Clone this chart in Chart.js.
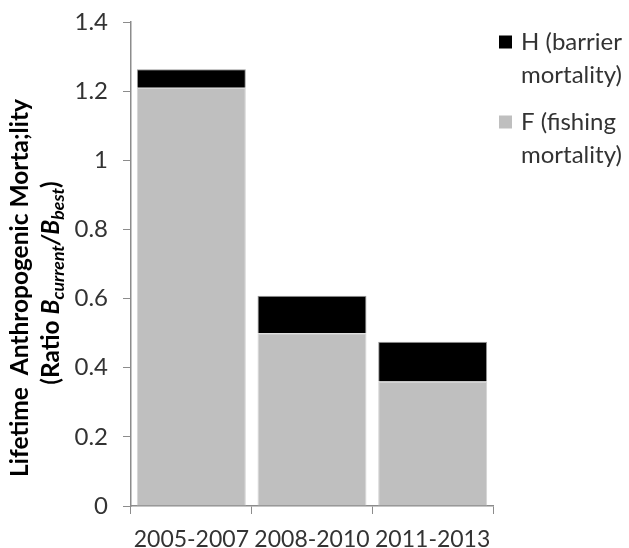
<!DOCTYPE html>
<html>
<head>
<meta charset="utf-8">
<script src="https://cdn.jsdelivr.net/npm/chart.js@4/dist/chart.umd.min.js"></script>
<style>
  html, body { margin: 0; padding: 0; background: #ffffff; }
  #wrap { width: 629px; height: 548px; }
</style>
</head>
<body>
<div id="wrap"><canvas id="c" width="629" height="548"></canvas></div>
<script>
// ---- data ----
const categories = ["2005-2007", "2008-2010", "2011-2013"];
const fishingF = [1.21, 0.50, 0.36];      // F (fishing mortality), bottom segment
const barrierH = [0.053, 0.108, 0.115];   // H (barrier mortality), top segment
const yTicks = [0, 0.2, 0.4, 0.6, 0.8, 1, 1.2, 1.4];
const seriesLabels = {
  H: ["H (barrier", "mortality)"],
  F: ["F (fishing", "mortality)"]
};

const FONT = "Lato, 'Noto Sans', sans-serif";
const TEXT = "#333333";
const AXIS = "#8c8c8c";

// Custom y-axis title (with italic subscripts) drawn rotated
const yTitlePlugin = {
  id: 'yTitle',
  afterDraw(chart) {
    const ctx = chart.ctx;
    const cy = 288;
    ctx.save();
    ctx.fillStyle = '#000';
    ctx.textBaseline = 'alphabetic';
    ctx.translate(28, cy);
    ctx.rotate(-Math.PI / 2);
    const line1 = "Lifetime  Anthropogenic Morta;lity";
    let fs = 20;
    ctx.font = "bold " + fs + "px " + FONT;
    const w1 = ctx.measureText(line1).width;
    fs = fs * 378 / w1;
    ctx.font = "bold " + fs + "px " + FONT;
    ctx.textAlign = 'center';
    ctx.fillText(line1, 0, 0);
    ctx.restore();

    const big = fs;
    const small = fs * 0.72;
    const runs = [
      { t: "(Ratio ", f: "bold " + big + "px " + FONT, dy: 0 },
      { t: "B", f: "italic bold " + big + "px " + FONT, dy: 0 },
      { t: "current", f: "italic bold " + small + "px " + FONT, dy: big * 0.22 },
      { t: "/", f: "italic bold " + big + "px " + FONT, dy: 0 },
      { t: "B", f: "italic bold " + big + "px " + FONT, dy: 0 },
      { t: "best", f: "italic bold " + small + "px " + FONT, dy: big * 0.22 },
      { t: ")", f: "bold " + big + "px " + FONT, dy: 0 }
    ];
    ctx.save();
    ctx.translate(59, cy - 5);
    ctx.rotate(-Math.PI / 2);
    ctx.textAlign = 'left';
    let total = 0;
    runs.forEach(r => { ctx.font = r.f; r.w = ctx.measureText(r.t).width; total += r.w; });
    let x = -total / 2;
    runs.forEach(r => { ctx.font = r.f; ctx.fillText(r.t, x, r.dy); x += r.w; });
    ctx.restore();
  }
};

// Custom legend with two-line labels on the right
const legendPlugin = {
  id: 'sideLegend',
  afterDraw(chart) {
    const ctx = chart.ctx;
    const ds = chart.data.datasets;
    const items = [
      { color: ds[1].backgroundColor, lines: seriesLabels.H, y: 42 },
      { color: ds[0].backgroundColor, lines: seriesLabels.F, y: 122 }
    ];
    ctx.save();
    ctx.font = "24px " + FONT;
    ctx.textBaseline = 'middle';
    ctx.textAlign = 'left';
    items.forEach(it => {
      ctx.fillStyle = it.color;
      ctx.fillRect(499, it.y - 6.5, 13, 13);
      ctx.fillStyle = TEXT;
      it.lines.forEach((ln, i) => ctx.fillText(ln, 521, it.y + i * 33));
    });
    ctx.restore();
  }
};

new Chart(document.getElementById('c'), {
  type: 'bar',
  data: {
    labels: categories,
    datasets: [
      {
        label: "F (fishing mortality)",
        data: fishingF,
        backgroundColor: '#bfbfbf',
        borderColor: '#d4d4d4',
        borderWidth: 1,
        barPercentage: 0.903,
        categoryPercentage: 1.0
      },
      {
        label: "H (barrier mortality)",
        data: barrierH,
        backgroundColor: '#000000',
        borderColor: '#9a9a9a',
        borderWidth: 1,
        barPercentage: 0.903,
        categoryPercentage: 1.0
      }
    ]
  },
  options: {
    responsive: false,
    animation: false,
    devicePixelRatio: 1,
    layout: { padding: { top: 22, right: 136, left: 0, bottom: 0 } },
    plugins: {
      legend: { display: false },
      tooltip: { enabled: false },
      title: { display: false }
    },
    scales: {
      x: {
        stacked: true,
        grid: { drawOnChartArea: false, drawTicks: true, tickLength: 8, color: AXIS, offset: true },
        border: { display: true, color: AXIS, width: 1.5 },
        ticks: { color: TEXT, font: { family: FONT, size: 23 }, padding: 12, maxRotation: 0, autoSkip: false },
        afterFit(scale) { scale.height = 42; scale.paddingLeft = 0; scale.paddingRight = 0; }
      },
      y: {
        stacked: true,
        min: 0,
        max: 1.4,
        afterBuildTicks(scale) { scale.ticks = yTicks.map(v => ({ value: v })); },
        grid: { drawOnChartArea: false, drawTicks: true, tickLength: 8, color: AXIS },
        border: { display: true, color: AXIS, width: 1.5 },
        ticks: {
          color: TEXT,
          font: { family: FONT, size: 24 },
          padding: 15,
          callback: (v) => String(Math.round(v * 10) / 10)
        },
        afterFit(scale) { scale.width = 131; scale.paddingTop = 0; scale.paddingBottom = 0; }
      }
    }
  },
  plugins: [yTitlePlugin, legendPlugin]
});
</script>
</body>
</html>
